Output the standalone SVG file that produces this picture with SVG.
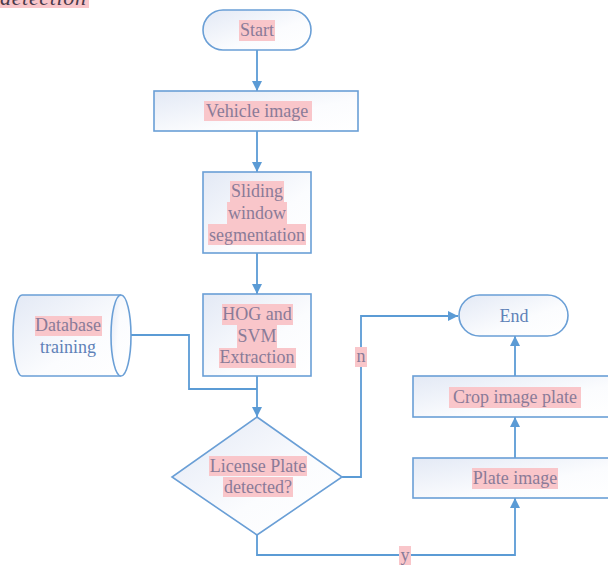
<svg xmlns="http://www.w3.org/2000/svg" width="608" height="565" viewBox="0 0 608 565">
<style>
.shape{stroke:#6a9fd6;stroke-width:1.6;fill:url(#g)}
.conn{stroke:#5b9bd5;stroke-width:1.8;fill:none}
.t{font-family:"Liberation Serif","Times New Roman",serif;font-size:18px;fill:#8a7b98;text-anchor:middle}
.tb{font-family:"Liberation Serif","Times New Roman",serif;font-size:18px;fill:#5f82b8;text-anchor:middle}
.hl{fill:#f9c6ca}
</style>
<defs>
<linearGradient id="g" x1="0" y1="0" x2="1" y2="1">
<stop offset="0" stop-color="#e3e9f5"/>
<stop offset="0.6" stop-color="#fbfcfe"/>
<stop offset="1" stop-color="#ffffff"/>
</linearGradient>
<marker id="a" viewBox="0 0 10 10" refX="10" refY="5" markerWidth="10" markerHeight="10" markerUnits="userSpaceOnUse" orient="auto">
<path d="M0,0 L10,5 L0,10 Z" fill="#5b9bd5"/>
</marker>
</defs>
<g id="caption">
<rect class="hl" x="-4" y="-6" width="93" height="14"/>
<text x="0" y="5" font-family="Liberation Serif,serif" font-style="italic" font-size="22" fill="#4a3a4a" textLength="86">detection</text>
</g>
<g id="connectors">
<line class="conn" x1="257" y1="50" x2="257" y2="91" marker-end="url(#a)"/>
<line class="conn" x1="257" y1="131" x2="257" y2="172" marker-end="url(#a)"/>
<line class="conn" x1="257" y1="253" x2="257" y2="294" marker-end="url(#a)"/>
<line class="conn" x1="257" y1="376" x2="257" y2="417" marker-end="url(#a)"/>
<polyline class="conn" points="131,335 189,335 189,389 257,389"/>
<polyline class="conn" points="342,477 361,477 361,316 458,316" marker-end="url(#a)"/>
<polyline class="conn" points="257,535 257,555 515,555 515,498" marker-end="url(#a)"/>
<line class="conn" x1="515" y1="458" x2="515" y2="417" marker-end="url(#a)"/>
<line class="conn" x1="515" y1="376" x2="515" y2="336" marker-end="url(#a)"/>
<rect class="hl" x="355" y="347" width="12" height="20"/>
<text class="t" x="361" y="362">n</text>
<rect class="hl" x="399" y="546" width="12" height="20"/>
<text class="t" x="405" y="561">y</text>
</g>
<g id="start">
<rect class="shape" x="203" y="10" width="108" height="40" rx="20"/>
<rect class="hl" x="239" y="20" width="36" height="21"/>
<text class="t" x="257" y="36">Start</text>
</g>
<g id="vehicle">
<rect class="shape" x="154" y="91" width="204" height="40"/>
<rect class="hl" x="204" y="101" width="108" height="20"/>
<text class="t" x="257" y="117">Vehicle image</text>
</g>
<g id="sliding">
<rect class="shape" x="203" y="172" width="108" height="81"/>
<rect class="hl" x="230" y="181" width="54" height="21"/>
<rect class="hl" x="227" y="202" width="60" height="22"/>
<rect class="hl" x="208" y="224" width="98" height="21"/>
<text class="t" x="257" y="197">Sliding</text>
<text class="t" x="257" y="219">window</text>
<text class="t" x="257" y="241">segmentation</text>
</g>
<g id="hog">
<rect class="shape" x="203" y="294" width="108" height="82"/>
<rect class="hl" x="222" y="304" width="71" height="21"/>
<rect class="hl" x="237" y="325" width="40" height="23"/>
<rect class="hl" x="219" y="348" width="77" height="20"/>
<text class="t" x="257" y="320">HOG and</text>
<text class="t" x="257" y="342">SVM</text>
<text class="t" x="257" y="363">Extraction</text>
</g>
<g id="database">
<path class="shape" d="M22,295 L121,295 A10,40.5 0 0 1 121,376 L22,376 A9,40.5 0 0 1 22,295 Z"/>
<path class="shape" d="M121,295 A10,40.5 0 0 0 121,376" fill="none"/>
<rect class="hl" x="35" y="316" width="67" height="20"/>
<text class="t" x="68" y="331">Database</text>
<text class="tb" x="68" y="353">training</text>
</g>
<g id="decision">
<polygon class="shape" points="257,417 342,477 257,535 172,477"/>
<rect class="hl" x="209" y="456" width="98" height="20"/>
<rect class="hl" x="223" y="477" width="70" height="20"/>
<text class="t" x="258" y="472">License Plate</text>
<text class="t" x="258" y="493">detected?</text>
</g>
<g id="end">
<rect class="shape" x="459" y="295" width="109" height="41" rx="20.5"/>
<text class="tb" x="514" y="322">End</text>
</g>
<g id="crop">
<rect class="shape" x="413" y="376" width="204" height="41"/>
<rect class="hl" x="449" y="387" width="132" height="21"/>
<text class="t" x="515" y="403">Crop image plate</text>
</g>
<g id="plate">
<rect class="shape" x="413" y="458" width="204" height="40"/>
<rect class="hl" x="472" y="468" width="86" height="21"/>
<text class="t" x="515" y="484">Plate image</text>
</g>
</svg>
